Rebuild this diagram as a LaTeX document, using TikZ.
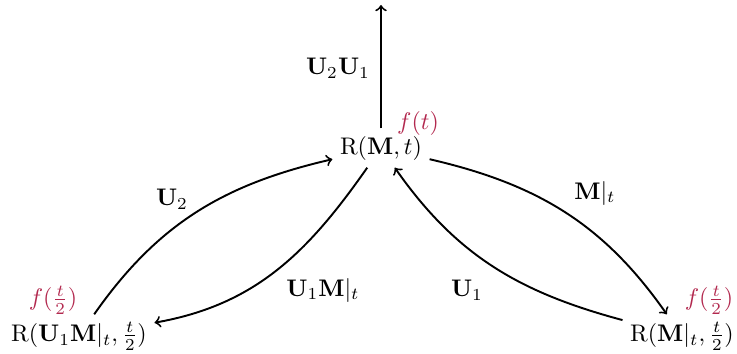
\documentclass[tikz,border=0pt]{standalone}
\usepackage{amsmath}
\definecolor{fcol}{RGB}{178,40,78}
\begin{document}
\begin{tikzpicture}[x=0.4167pt,y=0.4167pt,
  state/.style={inner sep=3pt},
  flab/.style={text=fcol,inner sep=0pt},
  elab/.style={inner sep=0pt},
  conn/.style={thick,->}]
\useasboundingbox (0,0) rectangle (737,-354);
\node[state] (top) at (381,-148) {$\mathrm{R}(\mathbf{M},t)$};
\node[state] (left) at (79,-336) {$\mathrm{R}(\mathbf{U}_1\mathbf{M}|_t,\frac{t}{2})$};
\node[state] (right) at (682,-336) {$\mathrm{R}(\mathbf{M}|_t,\frac{t}{2})$};
\coordinate (upend) at (381,-5);
\node[flab] (ft) at (418,-124) {$f(t)$};
\node[flab] (fl) at (53,-300) {$f(\frac{t}{2})$};
\node[flab] (fr) at (709,-300) {$f(\frac{t}{2})$};
\draw[conn] (top) -- (upend);
\draw[conn] (left) to[out=55,in=193] (top);
\draw[conn] (top) to[out=235,in=10] (left);
\draw[conn] (right) to[out=165,in=-55] (top);
\draw[conn] (top) to[out=-13,in=125] (right);
\node[elab] (l1) at (338,-68) {$\mathbf{U}_2\mathbf{U}_1$};
\node[elab] (l2) at (172,-199) {$\mathbf{U}_2$};
\node[elab] (l3) at (323,-290) {$\mathbf{U}_1\mathbf{M}|_t$};
\node[elab] (l4) at (467,-290) {$\mathbf{U}_1$};
\node[elab] (l5) at (595,-193) {$\mathbf{M}|_t$};
\end{tikzpicture}
\end{document}
